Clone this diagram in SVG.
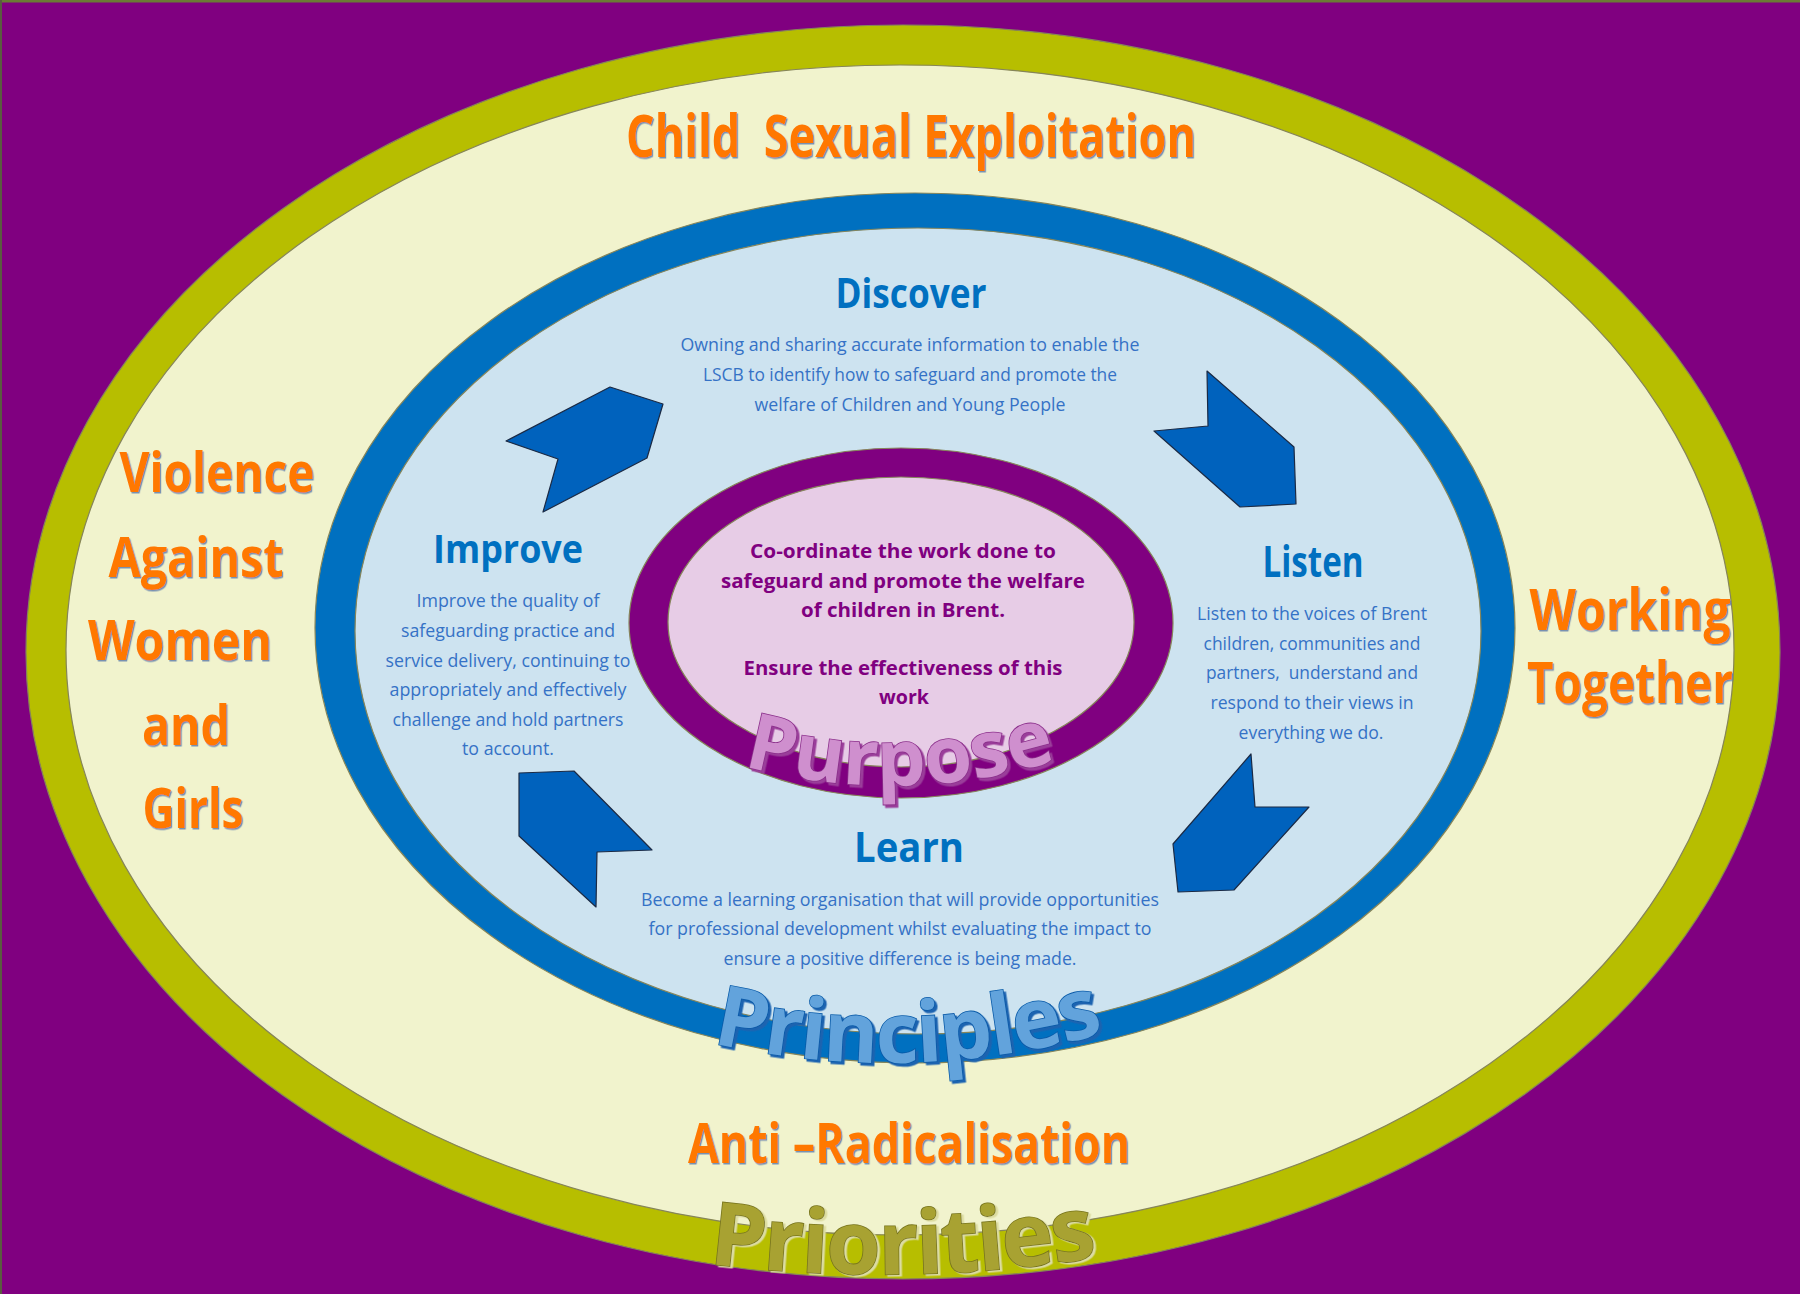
<svg xmlns="http://www.w3.org/2000/svg" width="1800" height="1294" viewBox="0 0 1800 1294">
<defs>
<style>
.ring{stroke:#86855a;stroke-width:1.2}
.orange{font-family:"Open Sans","Noto Sans",sans-serif;font-weight:700;fill:#ff7800;text-anchor:middle;filter:url(#osh)}
.head{font-family:"Open Sans","Noto Sans",sans-serif;font-weight:700;fill:#0070c0;text-anchor:middle}
.body{font-family:"Open Sans","Noto Sans",sans-serif;fill:#3572c6;text-anchor:middle;font-size:19px}
.purp{font-family:"Open Sans","Noto Sans",sans-serif;font-weight:700;fill:#800080;text-anchor:middle;font-size:19px}
.arrow{fill:#0062bd;stroke:#1b2a44;stroke-width:1.2;stroke-linejoin:round}
.curve{font-family:"Open Sans","Noto Sans",sans-serif;font-weight:700;stroke-width:1.6;paint-order:stroke}
</style>
<filter id="osh" x="-5%" y="-10%" width="115%" height="130%">
<feDropShadow dx="1.2" dy="1.5" stdDeviation="0.6" flood-color="#5070a8" flood-opacity="0.75"/>
</filter>
<filter id="shPurp" x="-5%" y="-10%" width="115%" height="130%">
<feDropShadow dx="2.5" dy="2.5" stdDeviation="0.3" flood-color="#9a3e9a" flood-opacity="1"/>
</filter>
<filter id="shPrin" x="-5%" y="-10%" width="115%" height="130%">
<feDropShadow dx="2.5" dy="2.5" stdDeviation="0.3" flood-color="#1e64b0" flood-opacity="1"/>
</filter>
<filter id="shPrio" x="-5%" y="-10%" width="115%" height="130%">
<feDropShadow dx="2.5" dy="1.5" stdDeviation="0.6" flood-color="#dcdca0" flood-opacity="1"/>
</filter>
<path id="pathPurpose" d="M 730 762 Q 900 812 1070 756"/>
<path id="pathPrinciples" d="M 700 1040 Q 905 1090 1115 1030"/>
<path id="pathPriorities" d="M 695 1262 Q 905 1290 1110 1255"/>
</defs>

<rect x="0" y="0" width="1800" height="1294" fill="#800080"/>
<line x1="0" y1="1" x2="1800" y2="1" stroke="#6b7a34" stroke-width="3"/>
<line x1="1" y1="0" x2="1" y2="1294" stroke="#5a5a40" stroke-width="2"/>

<g id="priorities-ring">
<ellipse class="ring" cx="903" cy="652" rx="877" ry="627" fill="#b7be00"/>
<ellipse class="ring" cx="900" cy="650" rx="834" ry="585" fill="#f1f3cd"/>
</g>

<g id="principles-ring">
<ellipse class="ring" cx="915" cy="628" rx="600" ry="435" fill="#0070c0"/>
<ellipse class="ring" cx="918" cy="631" rx="563" ry="403" fill="#cde3f0"/>
</g>

<g id="purpose-ring">
<ellipse class="ring" cx="901" cy="623" rx="272" ry="175" fill="#800080"/>
<ellipse class="ring" cx="901" cy="622" rx="233" ry="145" fill="#e7cce6"/>
</g>

<g id="connectors">
<polygon class="arrow" points="610,387 663,404 647,458 543,512 558,459 506,441"/>
<polygon class="arrow" points="1207,371 1294,447 1296,504 1240,507 1154,431 1208,426"/>
<polygon class="arrow" points="1251,754 1255,807 1309,807 1234,890 1178,892 1173,844"/>
<polygon class="arrow" points="519,773 574,771 652,850 597,852 596,907 519,836"/>
</g>

<g id="priority-cse">
<text class="orange" x="911" y="157" font-size="59" textLength="570" lengthAdjust="spacingAndGlyphs" xml:space="preserve" style="white-space:pre">Child  Sexual Exploitation</text>
</g>

<g id="priority-vawg">
<text class="orange" x="217" y="492" font-size="55" textLength="195" lengthAdjust="spacingAndGlyphs">Violence</text>
<text class="orange" x="196" y="577" font-size="55" textLength="175" lengthAdjust="spacingAndGlyphs">Against</text>
<text class="orange" x="180" y="660" font-size="55" textLength="184" lengthAdjust="spacingAndGlyphs">Women</text>
<text class="orange" x="186" y="745" font-size="55" textLength="88" lengthAdjust="spacingAndGlyphs">and</text>
<text class="orange" x="193" y="828" font-size="55" textLength="101" lengthAdjust="spacingAndGlyphs">Girls</text>
</g>

<g id="priority-working-together">
<text class="orange" x="1630" y="630" font-size="58" textLength="201" lengthAdjust="spacingAndGlyphs">Working</text>
<text class="orange" x="1630" y="703" font-size="58" textLength="206" lengthAdjust="spacingAndGlyphs">Together</text>
</g>

<g id="priority-anti-radicalisation">
<text class="orange" x="909" y="1163" font-size="56" textLength="442" lengthAdjust="spacingAndGlyphs">Anti –Radicalisation</text>
</g>

<g id="discover">
<text class="head" x="911" y="308" font-size="42" textLength="151" lengthAdjust="spacingAndGlyphs">Discover</text>
<text class="body" x="910" y="351" textLength="459" lengthAdjust="spacingAndGlyphs">Owning and sharing accurate information to enable the</text>
<text class="body" x="910" y="381" textLength="414" lengthAdjust="spacingAndGlyphs">LSCB to identify how to safeguard and promote the</text>
<text class="body" x="910" y="411" textLength="311" lengthAdjust="spacingAndGlyphs">welfare of Children and Young People</text>
</g>

<g id="improve">
<text class="head" x="508" y="563" font-size="40" textLength="150" lengthAdjust="spacingAndGlyphs">Improve</text>
<text class="body" x="508" y="607" textLength="183" lengthAdjust="spacingAndGlyphs">Improve the quality of</text>
<text class="body" x="508" y="637" textLength="214" lengthAdjust="spacingAndGlyphs">safeguarding practice and</text>
<text class="body" x="508" y="667" textLength="245" lengthAdjust="spacingAndGlyphs">service delivery, continuing to</text>
<text class="body" x="508" y="696" textLength="237" lengthAdjust="spacingAndGlyphs">appropriately and effectively</text>
<text class="body" x="508" y="726" textLength="231" lengthAdjust="spacingAndGlyphs">challenge and hold partners</text>
<text class="body" x="508" y="755" textLength="92" lengthAdjust="spacingAndGlyphs">to account.</text>
</g>

<g id="listen">
<text class="head" x="1313" y="577" font-size="43" textLength="101" lengthAdjust="spacingAndGlyphs">Listen</text>
<text class="body" x="1312" y="620" textLength="230" lengthAdjust="spacingAndGlyphs">Listen to the voices of Brent</text>
<text class="body" x="1312" y="650" textLength="217" lengthAdjust="spacingAndGlyphs">children, communities and</text>
<text class="body" x="1312" y="679" textLength="212" lengthAdjust="spacingAndGlyphs" xml:space="preserve" style="white-space:pre">partners,  understand and</text>
<text class="body" x="1312" y="709" textLength="203" lengthAdjust="spacingAndGlyphs">respond to their views in</text>
<text class="body" x="1311" y="739" textLength="145" lengthAdjust="spacingAndGlyphs">everything we do.</text>
</g>

<g id="learn">
<text class="head" x="909" y="862" font-size="42" textLength="110" lengthAdjust="spacingAndGlyphs">Learn</text>
<text class="body" x="900" y="906" textLength="518" lengthAdjust="spacingAndGlyphs">Become a learning organisation that will provide opportunities</text>
<text class="body" x="900" y="935" textLength="503" lengthAdjust="spacingAndGlyphs">for professional development whilst evaluating the impact to</text>
<text class="body" x="900" y="965" textLength="353" lengthAdjust="spacingAndGlyphs">ensure a positive difference is being made.</text>
</g>

<g id="purpose">
<text class="purp" x="903" y="558" textLength="306" lengthAdjust="spacingAndGlyphs">Co-ordinate the work done to</text>
<text class="purp" x="903" y="588" textLength="364" lengthAdjust="spacingAndGlyphs">safeguard and promote the welfare</text>
<text class="purp" x="903" y="617" textLength="204" lengthAdjust="spacingAndGlyphs">of children in Brent.</text>
<text class="purp" x="903" y="675" textLength="319" lengthAdjust="spacingAndGlyphs">Ensure the effectiveness of this</text>
<text class="purp" x="904" y="704" textLength="50" lengthAdjust="spacingAndGlyphs">work</text>
<text class="curve" font-size="78" fill="#cf8fce" stroke="#8b2f8b" filter="url(#shPurp)"><textPath href="#pathPurpose" startOffset="50%" text-anchor="middle">Purpose</textPath></text>
</g>

<g id="principles-label">
<text class="curve" font-size="84" letter-spacing="-1.5" fill="#62a3dc" stroke="#0a5aa8" filter="url(#shPrin)"><textPath href="#pathPrinciples" startOffset="50%" text-anchor="middle">Principles</textPath></text>
</g>

<g id="priorities-label">
<text class="curve" font-size="88" letter-spacing="-1.5" fill="#a8a232" stroke="#77741e" filter="url(#shPrio)"><textPath href="#pathPriorities" startOffset="50%" text-anchor="middle">Priorities</textPath></text>
</g>
</svg>
